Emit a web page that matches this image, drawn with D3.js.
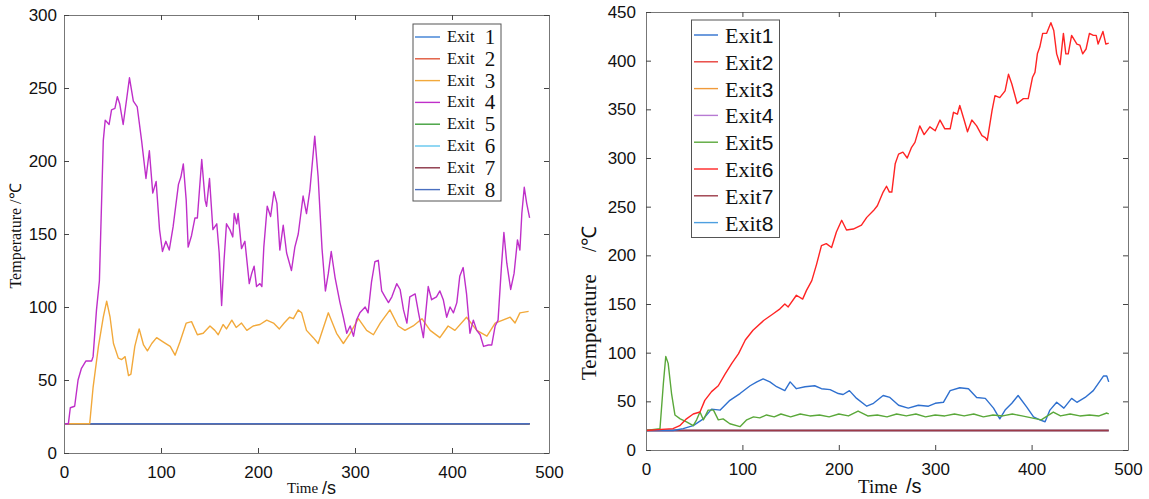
<!DOCTYPE html>
<html>
<head>
<meta charset="utf-8">
<title>Exit temperatures</title>
<script src="https://d3js.org/d3.v7.min.js"></script>
<style>
body { margin: 0; background: #fff; }
.tick text { font-family: "Liberation Sans", Arial, sans-serif; font-size: 17px; fill: #111; }
.domain { stroke: #777; }
.tick line { stroke: #444; }
.serif { font-family: "Liberation Serif", "Times New Roman", serif; fill: #111; }
.sans { font-family: "Liberation Sans", Arial, sans-serif; fill: #111; }
.line { fill: none; stroke-width: 1.4px; stroke-linejoin: round; }
</style>
</head>
<body>
<script>

// ---- left chart: exits 1..8, only exit 3 and exit 4 move off the 20 degree baseline
var flatTime = [0, 480];
var flatTemp = [20, 20];

var leftTime3 = [0,26.5,30,35.5,40.5,44,47.5,51,56,59.5,63,66.5,69,73,77.5,82,86,90.5,95.5,102.5,109.5,114.5,119.5,126,131.5,137.5,143.5,150.5,155.5,159,164,167.5,173,177.5,183,188.5,195,202,209,216,222,227,232.5,236.5,241.5,245,250,257,262,272.5,281,288,295,303.5,312,319,326,336,344.5,351.5,360,369,377.5,387.5,396,403,415,425.5,436,444.5,460,465,470,479];
var leftTemp3 = [20,20,45,73,93,104,93,75,65,64,66,53,54,73,85,74,70,75,79,76,73,67,76,89,90,81,82,87,84,81,88,85,91,86,89,84,87,88,91,89,85,89,93,92,98,96,84,79,75,96,82,75,82,92,84,81,89,98,87,84,87,92,84,79,87,84,93,84,80,89,93,89,96,97];

var leftTime4 = [0,4.5,6.5,11,14.5,18,22.5,28.5,30,33.5,36.5,40.5,42.5,46.5,49,52.5,55,57.5,61,64.5,67.5,71.5,75.5,80,84.5,88,91.5,95,98.5,101.5,105,108.5,112.5,118,120.5,123,126,128,131.5,135,137.5,142,145.5,147,150,153.5,157.5,160,162.5,165,167.5,171,174,175.5,178,179.5,183,186.5,191,193.5,196,198.5,202,204,206,209.5,213,216.5,219.5,222.5,226,229.5,234.5,238,241.5,246.5,250,253.5,258.5,262,266,269.5,272.5,275.5,279.5,284.5,288,291.5,295,298.5,301.5,305,310.5,313.5,317,320.5,324,327.5,331,334.5,338,343,346.5,350,353.5,356.5,362,365.5,370.5,375.5,379,384,387.5,391,394.5,398,401.5,405,408,411.5,415,418.5,422,425.5,429,432.5,437.5,441,444.5,447.5,451,453.5,456.5,460.5,464,467.5,470,472,474.5,477,480];
var leftTemp4 = [20,20,31,32,50,58,63,63,66,98,118,214,228,225,235,236,244,239,225,242,257,241,237,214,188,207,178,186,153,138,145,139,155,184,189,198,173,141,149,161,161,201,173,169,188,153,157,137,101,132,157,153,148,164,157,164,140,145,116,123,128,114,116,114,141,169,162,179,171,139,156,137,125,141,150,176,164,180,217,189,140,111,123,138,120,103,93,82,87,80,91,96,100,96,117,131,132,111,107,103,107,116,112,98,89,107,109,96,79,114,105,107,111,105,93,100,96,103,121,127,109,82,91,84,81,73,74,74,87,91,128,151,130,112,123,146,139,164,182,171,161];

// ---- right chart: exit 1, exit 5 and exit 6 move, the rest stay at 20
var rightTime1 = [0,28,38.5,49,59.5,68,77,87,97.5,108,115,121.5,128.5,135.5,144,149.5,156,165,175,182,191,199.5,204.5,211,218.5,229,236,246,253,262,272,282.5,293,300,308.5,315.5,325.5,334.5,343,352,360.5,367,372.5,379.5,386,395,402,408.5,414,419,426,433.5,441.5,447,455.5,464,474.5,478,480];
var rightTemp1 = [20,20,22,25,32,42,41,51,58,66,70,73,70,65,61,70,63,65,66,63,62,58,57,61,53,45,48,56,54,46,43,46,45,48,49,61,64,63,54,53,43,32,41,48,56,44,34,31,29,41,49,43,53,49,54,61,76,76,70];

var rightTime5 = [0,14.5,18,20.5,23,26.5,30,35.5,42,49,52.5,56,59.5,64.5,70,75,80,87,97.5,104.5,111.5,118,125,133,140,150,160,170,180,190,200,210,220,230,240,250,260,270,280,290,300,310,320,330,340,350,360,370,380,390,400,410,422.5,430,440,450,460,470,478,480];
var rightTemp5 = [20,22,68,96,89,58,36,32,29,25,31,39,31,41,41,31,32,27,24,31,34,33,36,34,37,34,37,35,36,34,37,35,40,35,36,34,37,35,37,34,36,35,37,35,37,34,36,35,37,35,33,31,39,35,37,35,36,35,38,37];

var rightTime6 = [0,28,35,42,49,56,61,68,75,82,89,96,103,111,122,132,139,144,147.5,156,162.5,166.5,172,177,182,187,192.5,197.5,203,208,215,223.5,229,236,240,246,249.5,252.5,255,258.5,262,266.5,271,275.5,279,284,288.5,294.5,300,305,310,315.5,319,323,325.5,330,333.5,338,343,348.5,352,354,359,362,367,372.5,376,379.5,385,391.5,396.5,401,403.5,406,408.5,411.5,415.5,420,423,426,429.5,433,435.5,438,441.5,447,450,453,456.5,460,464,467,469,474,477,480];
var rightTemp6 = [20,22,25,32,37,39,51,60,66,78,89,99,113,123,133,140,145,150,147,159,155,164,174,191,210,212,208,224,236,226,227,231,239,246,251,265,271,265,265,294,304,306,300,311,316,333,324,332,328,339,330,330,347,345,354,339,327,339,333,323,321,318,349,364,362,369,386,376,356,361,361,383,388,407,414,428,428,439,431,407,396,428,407,407,426,417,416,407,412,428,426,426,417,430,417,418];

var xTicks = [0, 100, 200, 300, 400, 500];
var leftYTicks = [0, 50, 100, 150, 200, 250, 300];
var rightYTicks = [0, 50, 100, 150, 200, 250, 300, 350, 400, 450];

var exitNames = ["1", "2", "3", "4", "5", "6", "7", "8"];
var leftColors = ["#3b7fd4", "#e0573a", "#f2a93b", "#bf2fc9", "#3f9f3a", "#62c6ee", "#8a3344", "#4a6fc0"];
var rightColors = ["#2f70cf", "#e8403a", "#f09a3a", "#b77ad3", "#5aa83a", "#ff2424", "#9c3a48", "#4d9fe0"];

// which flat exit ends up on top of the 20 degree baseline
var leftTopFlat = 7;
var rightTopFlat = 6;

var W = 1149, H = 499;
var svg = d3.select("body").append("svg")
  .attr("width", W)
  .attr("height", H);

function drawPanel(p) {
  var x = d3.scaleLinear().domain([0, 500]).range([p.left, p.right]);
  var y = d3.scaleLinear().domain([0, p.yMax]).range([p.bottom, p.top]);
  var g = svg.append("g");

  var line = d3.line()
    .x(function(d) { return x(d[0]); })
    .y(function(d) { return y(d[1]); });

  p.series.forEach(function(s) {
    var pts = s.t.map(function(t, i) { return [t, s.v[i]]; });
    g.append("path")
      .datum(pts)
      .attr("class", "line")
      .attr("stroke", s.color)
      .attr("stroke-width", s.w || 1.4)
      .attr("d", line);
  });

  g.append("g")
    .attr("transform", "translate(0," + p.bottom + ")")
    .call(d3.axisBottom(x).tickValues(xTicks).tickSizeInner(-5).tickSizeOuter(0).tickPadding(13));
  g.append("g")
    .attr("transform", "translate(0," + p.top + ")")
    .call(d3.axisTop(x).tickValues(xTicks).tickSizeInner(-5).tickSizeOuter(0).tickFormat(""));
  g.append("g")
    .attr("transform", "translate(" + p.left + ",0)")
    .call(d3.axisLeft(y).tickValues(p.yTicks).tickSizeInner(-5).tickSizeOuter(0).tickPadding(p.yPad));
  g.append("g")
    .attr("transform", "translate(" + p.right + ",0)")
    .call(d3.axisRight(y).tickValues(p.yTicks).tickSizeInner(-5).tickSizeOuter(0).tickFormat(""));

  return g;
}

// order: flat ones first (chosen top flat last among them), moving lines on top
function order(series, topFlat) {
  var rank = function(s) { return s.t !== flatTime ? 2 : (s.idx == topFlat ? 1 : 0); };
  return series.sort(function(a, b) { return rank(a) - rank(b) || a.idx - b.idx; });
}

var leftSeries = [];
exitNames.forEach(function(n, i) {
  if (i == 2) leftSeries.push({idx: i, t: leftTime3, v: leftTemp3, color: leftColors[i]});
  else if (i == 3) leftSeries.push({idx: i, t: leftTime4, v: leftTemp4, color: leftColors[i]});
  else leftSeries.push({idx: i, t: flatTime, v: flatTemp, color: leftColors[i], w: 1.6});
});

var gl = drawPanel({left: 64, right: 549, top: 15, bottom: 453, yMax: 300,
  yTicks: leftYTicks, yPad: 7, series: order(leftSeries, leftTopFlat)});

var rightSeries = [];
exitNames.forEach(function(n, i) {
  if (i == 0) rightSeries.push({idx: i, t: rightTime1, v: rightTemp1, color: rightColors[i]});
  else if (i == 4) rightSeries.push({idx: i, t: rightTime5, v: rightTemp5, color: rightColors[i]});
  else if (i == 5) rightSeries.push({idx: i, t: rightTime6, v: rightTemp6, color: rightColors[i], w: 1.6});
  else rightSeries.push({idx: i, t: flatTime, v: flatTemp, color: rightColors[i], w: 1.6});
});

var gr = drawPanel({left: 646, right: 1128, top: 12, bottom: 450, yMax: 450,
  yTicks: rightYTicks, yPad: 10, series: order(rightSeries, rightTopFlat)});

// axis titles
gl.append("text").attr("class", "serif")
  .attr("transform", "translate(21,236) rotate(-90)")
  .attr("text-anchor", "middle")
  .style("font-size", "16px")
  .text("Temperature /\u2103");
gl.append("text").attr("class", "serif")
  .attr("x", 287).attr("y", 493).style("font-size", "15px").text("Time");
gl.append("text").attr("class", "sans")
  .attr("x", 322).attr("y", 494).style("font-size", "18px").text("/s");

gr.append("text").attr("class", "serif")
  .attr("transform", "translate(596,380) rotate(-90)")
  .style("font-size", "21px")
  .text("Temperature");
gr.append("text").attr("class", "serif")
  .attr("transform", "translate(596,252) rotate(-90)")
  .style("font-size", "20px")
  .text("/\u2103");
gr.append("text").attr("class", "serif")
  .attr("x", 858).attr("y", 493).style("font-size", "19px").text("Time");
gr.append("text").attr("class", "sans")
  .attr("x", 906).attr("y", 493).style("font-size", "20px").text("/s");

// legends
var legL = gl.append("g");
legL.append("rect").attr("x", 413).attr("y", 24).attr("width", 88).attr("height", 177)
  .attr("fill", "#fff").attr("stroke", "#555");
exitNames.forEach(function(n, i) {
  var ry = 37 + i * 21.8;
  legL.append("line").attr("x1", 415).attr("x2", 440).attr("y1", ry).attr("y2", ry)
    .attr("stroke", leftColors[i]).attr("stroke-width", 1.4);
  legL.append("text").attr("class", "serif").attr("x", 447).attr("y", ry + 5)
    .style("font-size", "16.5px").text("Exit");
  legL.append("text").attr("class", "serif").attr("x", 490).attr("y", ry + 7)
    .attr("text-anchor", "middle").style("font-size", "21px").text(n);
});

var legR = gr.append("g");
legR.append("rect").attr("x", 691.5).attr("y", 20).attr("width", 88).attr("height", 217.5)
  .attr("fill", "#fff").attr("stroke", "#555");
exitNames.forEach(function(n, i) {
  var ry = 35 + i * 26.8;
  legR.append("line").attr("x1", 694).attr("x2", 718).attr("y1", ry).attr("y2", ry)
    .attr("stroke", rightColors[i]).attr("stroke-width", 1.4);
  var t = legR.append("text").attr("x", 725).attr("y", ry + 8);
  t.append("tspan").attr("class", "serif").style("font-size", "22px").text("Exit");
  t.append("tspan").attr("class", "sans").style("font-size", "21px").text(n);
});

</script>
</body>
</html>
